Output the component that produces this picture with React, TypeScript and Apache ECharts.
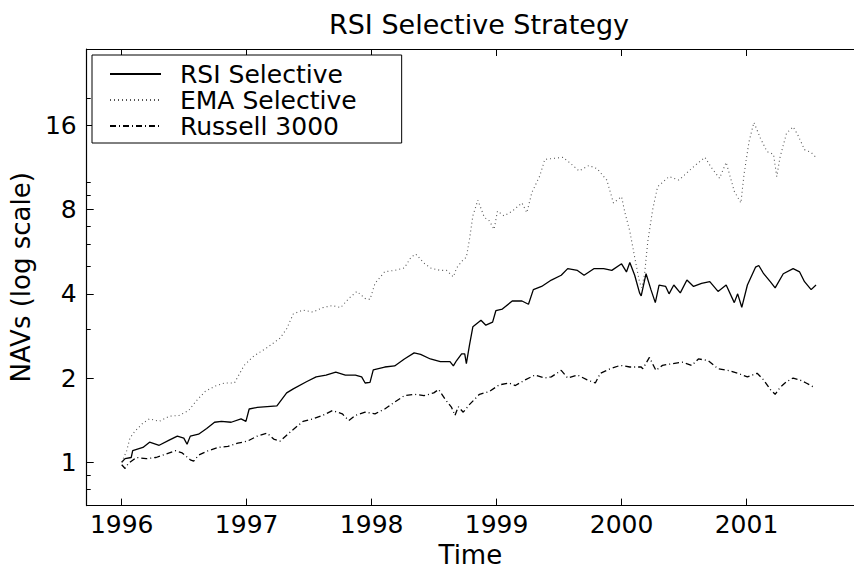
import React, { useEffect, useRef } from 'react';
import * as echarts from 'echarts';

const FONT = '"DejaVu Sans", "Liberation Sans", Arial, sans-serif';

const seriesNames = ['RSI Selective', 'EMA Selective', 'Russell 3000'];

const rsiYears = [
  1996.0, 1996.027, 1996.076, 1996.088, 1996.17, 1996.223, 1996.3, 1996.38, 1996.445, 1996.497,
  1996.523, 1996.549, 1996.615, 1996.68, 1996.743, 1996.798, 1996.876, 1996.955, 1996.994, 1997.02,
  1997.085, 1997.164, 1997.242, 1997.32, 1997.373, 1997.478, 1997.556, 1997.635, 1997.713, 1997.79,
  1997.87, 1997.92, 1997.948, 1997.987, 1998.013, 1998.105, 1998.184, 1998.262, 1998.34, 1998.392,
  1998.47, 1998.55, 1998.627, 1998.654, 1998.68, 1998.72, 1998.745, 1998.758, 1998.784, 1998.81,
  1998.875, 1998.914, 1998.968, 1998.994, 1999.046, 1999.125, 1999.203, 1999.255, 1999.294, 1999.36,
  1999.438, 1999.517, 1999.569, 1999.647, 1999.7, 1999.778, 1999.857, 1999.922, 2000.0, 2000.039,
  2000.066, 2000.105, 2000.144, 2000.157, 2000.196, 2000.235, 2000.27, 2000.3, 2000.353, 2000.38,
  2000.418, 2000.47, 2000.523, 2000.576, 2000.64, 2000.706, 2000.772, 2000.837, 2000.902, 2000.929,
  2000.962, 2001.007, 2001.072, 2001.098, 2001.137, 2001.19, 2001.229, 2001.294, 2001.373, 2001.425,
  2001.464, 2001.517, 2001.556,
];
const rsiValues = [
  1.0, 1.03, 1.04, 1.1, 1.13, 1.18, 1.15, 1.2, 1.24, 1.22,
  1.16, 1.24, 1.26, 1.32, 1.39, 1.4, 1.39, 1.43, 1.4, 1.55,
  1.57, 1.58, 1.59, 1.77, 1.83, 1.94, 2.02, 2.05, 2.1, 2.05,
  2.05, 2.02, 1.92, 1.93, 2.14, 2.19, 2.21, 2.34, 2.46, 2.43,
  2.34, 2.29, 2.29, 2.21, 2.31, 2.44, 2.44, 2.25, 2.64, 3.05,
  3.22, 3.09, 3.17, 3.48, 3.53, 3.77, 3.77, 3.67, 4.14, 4.25,
  4.48, 4.66, 4.92, 4.85, 4.66, 4.92, 4.92, 4.85, 5.12, 4.79,
  5.18, 4.66, 4.03, 3.93, 4.72, 4.14, 3.72, 4.3, 4.25, 4.0,
  4.3, 4.03, 4.48, 4.25, 4.36, 4.42, 4.08, 4.3, 3.72, 4.0,
  3.58, 4.3, 4.98, 5.05, 4.72, 4.42, 4.2, 4.72, 4.92, 4.79,
  4.42, 4.14, 4.3,
];

const emaYears = [
  1996.0, 1996.04, 1996.066, 1996.105, 1996.17, 1996.223, 1996.3, 1996.38, 1996.458, 1996.536,
  1996.588, 1996.667, 1996.745, 1996.824, 1996.902, 1996.98, 1997.059, 1997.164, 1997.268, 1997.32,
  1997.373, 1997.451, 1997.53, 1997.608, 1997.686, 1997.752, 1997.817, 1997.882, 1997.948, 1997.987,
  1998.027, 1998.105, 1998.184, 1998.262, 1998.314, 1998.353, 1998.419, 1998.47, 1998.549, 1998.6,
  1998.654, 1998.68, 1998.733, 1998.758, 1998.784, 1998.81, 1998.85, 1998.902, 1998.941, 1998.98,
  1999.007, 1999.059, 1999.125, 1999.203, 1999.242, 1999.282, 1999.347, 1999.386, 1999.464, 1999.53,
  1999.582, 1999.66, 1999.739, 1999.804, 1999.882, 1999.935, 2000.0, 2000.027, 2000.066, 2000.105,
  2000.144, 2000.162, 2000.184, 2000.21, 2000.249, 2000.288, 2000.38, 2000.458, 2000.51, 2000.588,
  2000.667, 2000.719, 2000.784, 2000.837, 2000.902, 2000.955, 2000.98, 2001.02, 2001.059, 2001.111,
  2001.164, 2001.216, 2001.242, 2001.268, 2001.32, 2001.373, 2001.41, 2001.464, 2001.517, 2001.556,
];
const emaValues = [
  1.0, 1.1, 1.22, 1.29, 1.38, 1.43, 1.4, 1.46, 1.47, 1.53,
  1.64, 1.79, 1.87, 1.92, 1.92, 2.22, 2.4, 2.57, 2.78, 3.0,
  3.39, 3.5, 3.44, 3.57, 3.63, 3.57, 3.85, 4.08, 3.85, 3.82,
  4.36, 4.8, 4.85, 4.95, 5.4, 5.55, 5.15, 4.95, 4.85, 4.85,
  4.6, 4.95, 5.3, 5.4, 6.3, 7.6, 8.65, 7.5, 7.3, 6.8,
  7.9, 7.6, 7.9, 8.45, 7.8, 9.2, 10.6, 12.1, 12.2, 12.3,
  11.8, 11.0, 11.5, 11.2, 10.2, 8.45, 8.9, 7.8, 6.7, 5.4,
  4.4, 4.2, 4.7, 6.16, 8.0, 9.65, 10.5, 10.2, 10.7, 11.5,
  12.3, 11.3, 10.35, 11.8, 9.3, 8.45, 10.7, 14.0, 16.4, 14.4,
  12.9, 12.6, 10.5, 12.3, 15.0, 15.8, 14.8, 13.1, 12.8, 12.3,
];

const russellYears = [
  1996.0, 1996.027, 1996.053, 1996.118, 1996.196, 1996.275, 1996.353, 1996.431, 1996.484, 1996.549,
  1996.576, 1996.615, 1996.693, 1996.772, 1996.85, 1996.929, 1997.007, 1997.085, 1997.164, 1997.216,
  1997.268, 1997.32, 1997.373, 1997.451, 1997.53, 1997.608, 1997.686, 1997.765, 1997.817, 1997.87,
  1997.948, 1998.027, 1998.105, 1998.184, 1998.262, 1998.34, 1998.419, 1998.497, 1998.536, 1998.588,
  1998.64, 1998.667, 1998.693, 1998.733, 1998.784, 1998.863, 1998.941, 1999.02, 1999.098, 1999.15,
  1999.229, 1999.307, 1999.386, 1999.438, 1999.517, 1999.569, 1999.647, 1999.725, 1999.79, 1999.83,
  1999.91, 1999.99, 2000.066, 2000.157, 2000.17, 2000.223, 2000.275, 2000.327, 2000.405, 2000.484,
  2000.562, 2000.615, 2000.693, 2000.772, 2000.85, 2000.929, 2001.007, 2001.085, 2001.137, 2001.19,
  2001.229, 2001.268, 2001.32, 2001.373, 2001.425, 2001.477, 2001.543,
];
const russellValues = [
  0.98, 0.95, 0.99, 1.04, 1.03, 1.04, 1.07, 1.1, 1.08, 1.02,
  1.01, 1.06, 1.1, 1.13, 1.14, 1.17, 1.19, 1.24, 1.27, 1.21,
  1.19, 1.25, 1.31, 1.4, 1.43, 1.47, 1.53, 1.49, 1.41, 1.47,
  1.51, 1.49, 1.55, 1.64, 1.73, 1.75, 1.73, 1.77, 1.82, 1.68,
  1.57, 1.47, 1.58, 1.51, 1.61, 1.75, 1.79, 1.89, 1.92, 1.88,
  1.97, 2.05, 2.0, 2.02, 2.13, 2.0, 2.05, 1.97, 1.92, 2.08,
  2.16, 2.22, 2.19, 2.19, 2.16, 2.37, 2.13, 2.22, 2.25, 2.28,
  2.22, 2.34, 2.31, 2.16, 2.13, 2.08, 2.02, 2.08, 1.97, 1.82,
  1.75, 1.85, 1.94, 2.0, 1.97, 1.92, 1.85,
];

const xMin = 1995.72;
const xMax = 2001.86;
const yMin = 0.7;
const yMax = 30;
const yMinorTicks = [0.8, 0.9, 3, 5, 6, 7, 9, 10, 20];

function zip(xs: number[], ys: number[]) {
  return xs.map((x, i) => [x, ys[i]]);
}

export default function App() {
  const ref = useRef<HTMLDivElement>(null);
  useEffect(() => {
    const chart = echarts.init(ref.current!, null, { renderer: 'svg' });
    const isPow2 = (v: number) => Math.abs(Math.log2(v) - Math.round(Math.log2(v))) < 1e-6;
    const axisLine = { show: true, lineStyle: { color: '#000', width: 1.2 } };
    const tick = { inside: true, length: 7, lineStyle: { color: '#000' } };
    chart.setOption({
      animation: false,
      backgroundColor: '#fff',
      title: {
        text: 'RSI Selective Strategy',
        left: 474,
        textAlign: 'center',
        top: 5,
        textStyle: { fontFamily: FONT, fontSize: 27, fontWeight: 'normal', color: '#000', lineHeight: 28 },
      },
      legend: {
        orient: 'vertical',
        left: 92,
        top: 55,
        itemWidth: 51,
        itemHeight: 12,
        itemGap: 0,
        padding: [6, 45, 4, 17],
        borderColor: '#000',
        borderWidth: 1,
        borderRadius: 0,
        backgroundColor: '#fff',
        data: seriesNames,
        itemStyle: { opacity: 0 },
        textStyle: { fontFamily: FONT, fontSize: 25, color: '#000', padding: [0, 0, 0, 14], lineHeight: 26 },
      },
      grid: { left: 83, top: 49, width: 782, height: 472, containLabel: false },
      xAxis: [
        {
          type: 'value',
          min: xMin,
          max: xMax,
          name: 'Time',
          nameLocation: 'middle',
          nameGap: 32,
          nameTextStyle: { fontFamily: FONT, fontSize: 26, color: '#000', lineHeight: 20 },
          axisLine,
          axisTick: tick,
          splitLine: { show: false },
          axisLabel: {
            fontFamily: FONT,
            fontSize: 25,
            color: '#000',
            margin: 9,
            lineHeight: 20,
            showMinLabel: false,
            showMaxLabel: false,
            formatter: (v: number) => (Math.abs(v - Math.round(v)) < 1e-6 ? String(Math.round(v)) : ''),
          },
        },
        {
          type: 'value',
          position: 'top',
          min: xMin,
          max: xMax,
          axisLine,
          axisTick: tick,
          splitLine: { show: false },
          axisLabel: { show: false },
        },
      ],
      yAxis: [
        {
          type: 'log',
          logBase: 2,
          min: yMin,
          max: yMax,
          name: 'NAVs (log scale)',
          nameLocation: 'middle',
          nameGap: 50,
          nameTextStyle: { fontFamily: FONT, fontSize: 26, color: '#000' },
          axisLine,
          axisTick: tick,
          splitLine: { show: false },
          axisLabel: {
            fontFamily: FONT,
            fontSize: 25,
            color: '#000',
            margin: 10,
            showMinLabel: false,
            showMaxLabel: false,
            formatter: (v: number) => (isPow2(v) ? String(Math.round(v)) : ''),
          },
        },
        {
          type: 'log',
          logBase: 2,
          min: yMin,
          max: yMax,
          position: 'left',
          axisLine: { show: false },
          axisLabel: { show: false },
          splitLine: { show: false },
          axisTick: { show: true, inside: true, length: 4, customValues: yMinorTicks, lineStyle: { color: '#000' } },
        },
      ],
      series: [
        {
          name: seriesNames[0],
          type: 'line',
          data: zip(rsiYears, rsiValues),
          showSymbol: false,
          symbol: 'none',
          lineStyle: { color: '#000', width: 1.3, type: 'solid' },
          itemStyle: { color: '#000' },
        },
        {
          name: seriesNames[1],
          type: 'line',
          data: zip(emaYears, emaValues),
          showSymbol: false,
          symbol: 'none',
          lineStyle: { color: '#555', width: 1.1, type: [1, 3] },
          itemStyle: { color: '#555' },
        },
        {
          name: seriesNames[2],
          type: 'line',
          data: zip(russellYears, russellValues),
          showSymbol: false,
          symbol: 'none',
          lineStyle: { color: '#000', width: 1.3, type: [6, 3, 1, 3] },
          itemStyle: { color: '#000' },
        },
      ],
    });
    return () => chart.dispose();
  }, []);
  return <div ref={ref} style={{ position: 'absolute', left: 0, top: 0, width: 854, height: 573 }} />;
}
